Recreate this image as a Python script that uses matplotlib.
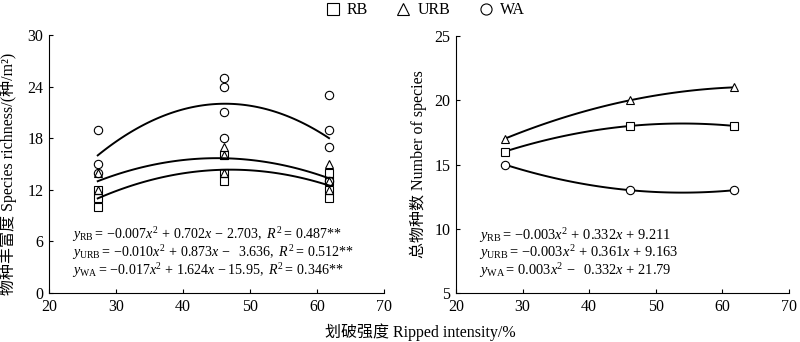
import numpy as np
import matplotlib
matplotlib.use("Agg")
import matplotlib.pyplot as plt
from matplotlib.lines import Line2D

plt.rcParams['font.family'] = ['Liberation Serif', 'Noto Sans CJK SC']
plt.rcParams['mathtext.fontset'] = 'custom'
plt.rcParams['mathtext.rm'] = 'Liberation Serif'
plt.rcParams['mathtext.it'] = 'Liberation Serif:italic'

# ripped intensity levels (%)
x_levels = [27.3, 46.2, 61.8]

# species richness per plot (left panel)
rb_x = [27.3, 27.3, 27.3, 46.2, 46.2, 46.2, 61.8, 61.8, 61.8, 61.8]
rb_y = [12, 11, 10, 16, 14, 13, 14, 13, 12, 11]
urb_x = [27.3, 27.3, 46.2, 46.2, 46.2, 61.8, 61.8, 61.8]
urb_y = [14, 12, 17, 16, 14, 15, 13, 12]
wa_x = [27.3, 27.3, 27.3, 46.2, 46.2, 46.2, 46.2, 61.8, 61.8, 61.8, 61.8]
wa_y = [19, 15, 14, 25, 24, 21, 18, 23, 19, 17, 13]

# total number of species (right panel)
rb_total = [16, 18, 18]
urb_total = [17, 20, 21]
wa_total = [15, 13, 13]

eq_left = [r'$y_{\mathrm{RB}}{=}\,{-}0.007x^2{\,+\,}0.702x{\,-\,}2.703,\ R^2{=}\,0.487$**',
           r'$y_{\mathrm{URB}}{=}\,{-}0.010x^2{\,+\,}0.873x{\,-\ \ }3.636,\ R^2{=}\,0.512$**',
           r'$y_{\mathrm{WA}}{=}\,{-}0.017x^2{\,+\,}1.624x{\,-}15.95,\ R^2{=}\,0.346$**']
eq_right = [r'$y_{\mathrm{RB}}{=}\,{-}0.003x^2{\,+\,}0.332x{\,+\,}9.211$',
            r'$y_{\mathrm{URB}}{=}\,{-}0.003x^2{\,+\,}0.361x{\,+\,}9.163$',
            r'$y_{\mathrm{WA}}{=}\,0.003x^2{\,-\ \ }0.332x{\,+\,}21.79$']

fs = 11.5
ms = 6

fig = plt.figure(figsize=(8, 3.42), dpi=100)
ax1 = fig.add_axes([0.061, 0.143, 0.419, 0.755])
ax2 = fig.add_axes([0.570, 0.143, 0.416, 0.752])

xx = np.linspace(27.3, 61.8, 100)

# left panel
for xs, ys, m in [(rb_x, rb_y, 's'), (urb_x, urb_y, '^'), (wa_x, wa_y, 'o')]:
    ax1.plot(xs, ys, m, ms=ms, mfc='none', mec='black', mew=0.8, ls='none')
    c = np.polyfit(xs, ys, 2)
    ax1.plot(xx, np.polyval(c, xx), color='black', lw=1.4)

ax1.set_xlim(20, 70)
ax1.set_ylim(0, 30)
ax1.set_yticks([0, 6, 12, 18, 24, 30])
ax1.set_ylabel('物种丰富度 Species richness/(种/m²)', fontsize=fs, labelpad=5)
ax1.yaxis.set_label_coords(-0.095, 0.46)
for i, t in enumerate(eq_left):
    ax1.text(0.07, 0.225 - i * 0.068, t, transform=ax1.transAxes, fontsize=10.1, va='center')

# right panel
for ys, m in [(rb_total, 's'), (urb_total, '^'), (wa_total, 'o')]:
    c = np.polyfit(x_levels, ys, 2)
    ax2.plot(xx, np.polyval(c, xx), color='black', lw=1.4)
    ax2.plot(x_levels, ys, m, ms=ms, mfc='white', mec='black', mew=0.8, ls='none')

ax2.set_xlim(20, 70)
ax2.set_ylim(5, 25)
ax2.set_yticks([5, 10, 15, 20, 25])
ax2.set_ylabel('总物种数 Number of species', fontsize=fs, labelpad=5)
for i, t in enumerate(eq_right):
    ax2.text(0.07, 0.225 - i * 0.068, t, transform=ax2.transAxes, fontsize=10.4, va='center')

for ax in (ax1, ax2):
    ax.spines['top'].set_visible(False)
    ax.spines['right'].set_visible(False)
    ax.spines['left'].set_linewidth(0.8)
    ax.spines['bottom'].set_linewidth(0.8)
    ax.set_xticks([20, 30, 40, 50, 60, 70])
    ax.tick_params(direction='in', length=3, width=0.8, labelsize=fs, pad=4)

handles = [Line2D([], [], marker=m, ls='none', ms=8, mfc='none', mec='black', mew=0.8)
           for m in ['s', '^', 'o']]
fig.legend(handles, ['RB', 'URB', 'WA'], loc='upper center', bbox_to_anchor=(0.53, 1.035),
           ncol=3, frameon=False, fontsize=fs, handletextpad=0.3, columnspacing=1.6,
           handlelength=1.2)

fig.text(0.525, 0.015, '划破强度 Ripped intensity/%', ha='center', fontsize=fs)

fig.savefig('out.png', dpi=100)
